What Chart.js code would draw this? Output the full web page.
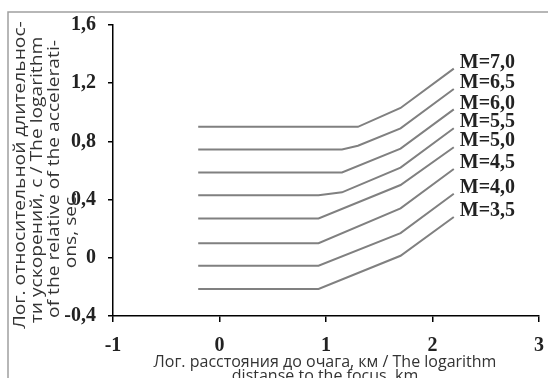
<!DOCTYPE html>
<html>
<head>
<meta charset="utf-8">
<script src="https://cdn.jsdelivr.net/npm/chart.js@4"></script>
<style>
    body { margin: 0; background: #fff; }
    #wrap { width: 548px; height: 378px; position: relative; }
</style>
</head>
<body>
<div id="wrap"><canvas id="magChart"></canvas></div>
<script>
// Magnitude labels of each curve
const magnitudes = ['M=7,0', 'M=6,5', 'M=6,0', 'M=5,5', 'M=5,0', 'M=4,5', 'M=4,0', 'M=3,5'];

// log distance (x) and log relative duration (y) for each curve
const xM70 = [-0.2, 1.3, 1.7, 2.2];
const yM70 = [0.90, 0.90, 1.03, 1.30];
const xM65 = [-0.2, 1.15, 1.3, 1.7, 2.2];
const yM65 = [0.745, 0.745, 0.77, 0.89, 1.16];
const xM60 = [-0.2, 1.15, 1.7, 2.2];
const yM60 = [0.586, 0.586, 0.75, 1.02];
const xM55 = [-0.2, 0.93, 1.15, 1.7, 2.2];
const yM55 = [0.43, 0.43, 0.45, 0.62, 0.89];
const xM50 = [-0.2, 0.93, 1.7, 2.2];
const yM50 = [0.27, 0.27, 0.50, 0.76];
const xM45 = [-0.2, 0.93, 1.7, 2.2];
const yM45 = [0.10, 0.10, 0.34, 0.61];
const xM40 = [-0.2, 0.93, 1.7, 2.2];
const yM40 = [-0.055, -0.055, 0.17, 0.44];
const xM35 = [-0.2, 0.93, 1.7, 2.2];
const yM35 = [-0.214, -0.214, 0.014, 0.28];

const xTicks = [-1, 0, 1, 2, 3];
const yTicks = [-0.4, 0, 0.4, 0.8, 1.2, 1.6];

const yTitle = [
    'Лог. относительной длительнос-',
    'ти ускорений, с / The logarithm',
    'of the relative of the accelerati-',
    'ons, sec.'
];
const xTitle = [
    'Лог. расстояния до очага, км / The logarithm',
    'distanse to the focus, km'
];

const curveX = [xM70, xM65, xM60, xM55, xM50, xM45, xM40, xM35];
const curveY = [yM70, yM65, yM60, yM55, yM50, yM45, yM40, yM35];

const serifFamily = '"Liberation Serif", "Times New Roman", serif';

function toPoints(xs, ys) {
    return xs.map((x, i) => ({ x: x, y: ys[i] }));
}

function formatTick(v) {
    const r = Math.round(v * 10) / 10;
    if (r === 0) return '0';
    return r.toFixed(1).replace('.', ',');
}

// gray frame, curve labels and the axis titles
const decorPlugin = {
    id: 'decor',
    beforeDraw(chart) {
        const ctx = chart.ctx;
        ctx.save();
        ctx.strokeStyle = '#a0a0a0';
        ctx.lineWidth = 1.5;
        ctx.beginPath();
        ctx.moveTo(8, 378);
        ctx.lineTo(8, 12);
        ctx.lineTo(548, 12);
        ctx.stroke();
        ctx.restore();
    },
    afterDatasetsDraw(chart) {
        const ctx = chart.ctx;
        ctx.save();
        ctx.font = 'bold 20px ' + serifFamily;
        ctx.fillStyle = '#222';
        ctx.textAlign = 'left';
        ctx.textBaseline = 'middle';
        chart.data.datasets.forEach((ds, i) => {
            const pts = chart.getDatasetMeta(i).data;
            const last = pts[pts.length - 1];
            ctx.fillText(magnitudes[i], last.x + 6, last.y - 6);
        });
        ctx.restore();
    },
    afterDraw(chart) {
        const ctx = chart.ctx;
        ctx.save();
        ctx.fillStyle = '#333';
        ctx.font = '16px "Open Sans", sans-serif';
        ctx.textAlign = 'center';
        ctx.textBaseline = 'middle';
        // y title, rotated (the source text is stretched along its length)
        const cols = [20, 37, 54, 71];
        const mids = [175, 180, 179, 230];
        yTitle.forEach((line, i) => {
            ctx.save();
            ctx.translate(cols[i], mids[i]);
            ctx.rotate(-Math.PI / 2);
            ctx.scale(1.2, 1);
            ctx.fillText(line, 0, 0);
            ctx.restore();
        });
        // x title
        ctx.fillText(xTitle[0], 325, 362);
        ctx.fillText(xTitle[1], 325, 376);
        ctx.restore();
    }
};

const datasets = curveX.map((xs, i) => ({
    label: magnitudes[i],
    data: toPoints(xs, curveY[i]),
    showLine: true,
    borderColor: '#808080',
    borderWidth: 2,
    pointRadius: 0,
    tension: 0,
    fill: false
}));

new Chart(document.getElementById('magChart'), {
    type: 'scatter',
    data: { datasets: datasets },
    plugins: [decorPlugin],
    options: {
        responsive: true,
        maintainAspectRatio: false,
        animation: false,
        layout: { padding: { top: 25, right: 5, left: 0, bottom: 0 } },
        plugins: {
            legend: { display: false },
            tooltip: { enabled: false }
        },
        scales: {
            x: {
                type: 'linear',
                min: xTicks[0],
                max: xTicks[xTicks.length - 1],
                afterBuildTicks: scale => { scale.ticks = xTicks.map(v => ({ value: v })); },
                afterFit: scale => { scale.height = 62; },
                // tall line height pushes the labels down without widening the side padding
                ticks: { font: { family: serifFamily, size: 20, weight: 'bold', lineHeight: 2 }, color: '#222', padding: 4, maxRotation: 0 },
                grid: { drawOnChartArea: false, drawTicks: true, tickLength: 6, color: '#000', lineWidth: 1.5 },
                border: { color: '#000', width: 1.5 }
            },
            y: {
                type: 'linear',
                min: yTicks[0],
                max: yTicks[yTicks.length - 1],
                afterBuildTicks: scale => { scale.ticks = yTicks.map(v => ({ value: v })); },
                afterFit: scale => { scale.width = 113; },
                ticks: { font: { family: serifFamily, size: 20, weight: 'bold' }, color: '#222', padding: 12, callback: formatTick },
                grid: { drawOnChartArea: false, drawTicks: true, tickLength: 5, color: '#000', lineWidth: 1.5 },
                border: { color: '#000', width: 1.5 }
            }
        }
    }
});
</script>
</body>
</html>
